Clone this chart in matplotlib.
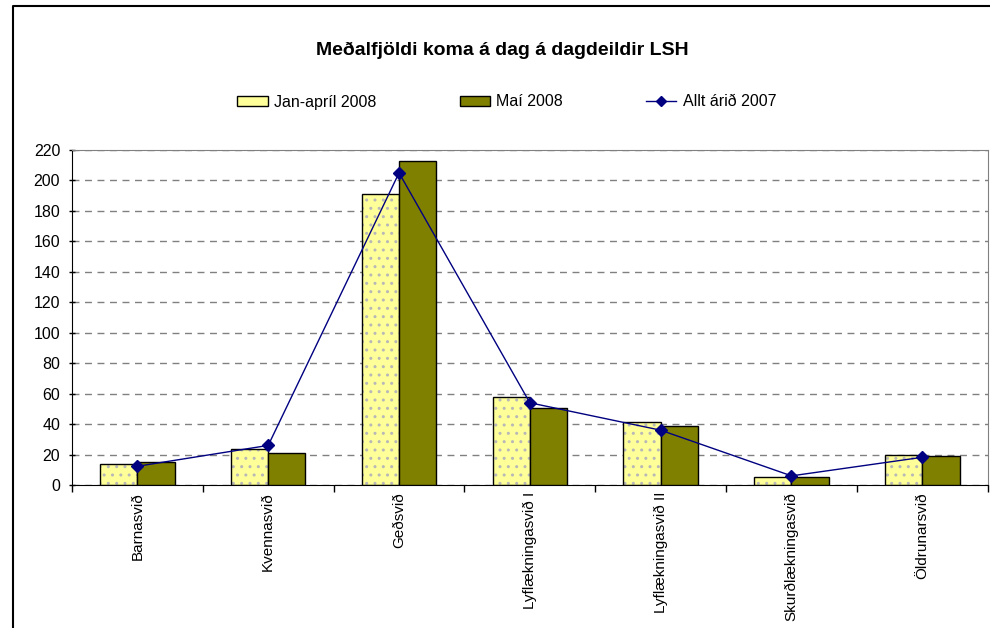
import numpy as np
import matplotlib
matplotlib.use("Agg")
import matplotlib.pyplot as plt
from matplotlib.lines import Line2D

plt.rcParams['font.family'] = ['Liberation Sans', 'DejaVu Sans']

categories = ['Barnasvið', 'Kvennasvið', 'Geðsvið', 'Lyflækningasvið I',
              'Lyflækningasvið II', 'Skurðlækningasvið', 'Öldrunarsvið']
jan_apr_2008 = [14, 23.5, 191, 57.5, 41.5, 5, 19.5]
mai_2008 = [15, 21, 213, 50.5, 38.5, 5, 19]
allt_2007 = [12.3, 26, 205, 54, 36, 6, 18.2]

fig = plt.figure(figsize=(9.9, 6.28), dpi=100)
ax = fig.add_axes([0.0727, 0.2277, 0.925, 0.5334])

x = np.arange(len(categories))
w = 0.285

# yellow bars with grey dot pattern, black outline drawn on top
ax.bar(x - w / 2, jan_apr_2008, w, color='#FFFF99', edgecolor='#b8b8b8',
       hatch='..', linewidth=0, zorder=2)
ax.bar(x - w / 2, jan_apr_2008, w, fill=False, edgecolor='black',
       linewidth=1, zorder=3)
ax.bar(x + w / 2, mai_2008, w, color='#808000', edgecolor='black',
       linewidth=1, zorder=3)
ax.plot(x, allt_2007, color='#000080', marker='D', markersize=6,
        linewidth=1, zorder=4)

ax.set_xlim(-0.5, len(categories) - 0.5)
ax.set_ylim(0, 220)
ax.set_yticks(np.arange(0, 221, 20))
ax.yaxis.grid(True, color='#808080', linestyle=(0, (5, 4)), linewidth=1)
ax.set_axisbelow(True)

ax.set_xticks(x)
ax.set_xticklabels(categories, rotation=90, fontsize=11)
ax.set_xticks(np.arange(-0.5, len(categories), 1), minor=True)
ax.tick_params(axis='x', which='major', length=0, pad=5)
ax.tick_params(axis='x', which='minor', length=5, direction='out', width=1)
ax.tick_params(axis='y', length=5, direction='inout', width=1, labelsize=11.5, pad=6)

for s in ['top', 'right']:
    ax.spines[s].set_color('#808080')
for s in ['left', 'bottom']:
    ax.spines[s].set_color('black')

fig.text(0.507, 1 - 50 / 628, 'Meðalfjöldi koma á dag á dagdeildir LSH',
         ha='center', va='center', fontsize=14, fontweight='bold')

handles = [
    plt.Rectangle((0, 0), 1, 1, facecolor='#FFFF99', edgecolor='black', linewidth=1),
    plt.Rectangle((0, 0), 1, 1, facecolor='#808000', edgecolor='black', linewidth=1),
    Line2D([], [], color='#000080', marker='D', markersize=5, linewidth=1),
]
fig.legend(handles, ['Jan-apríl 2008', 'Maí 2008', 'Allt árið 2007'],
           loc='center', bbox_to_anchor=(0.512, 1 - 102 / 628), ncol=3,
           frameon=False, fontsize=11.5, handlelength=1.9, handleheight=0.55,
           handletextpad=0.4, columnspacing=5.2)

# outer chart border (top and left visible)
fig.add_artist(Line2D([13 / 990, 13 / 990, 1], [0, 1 - 6 / 628, 1 - 6 / 628],
                      color='black', linewidth=1.5, transform=fig.transFigure))

fig.savefig('out.png', dpi=100)
